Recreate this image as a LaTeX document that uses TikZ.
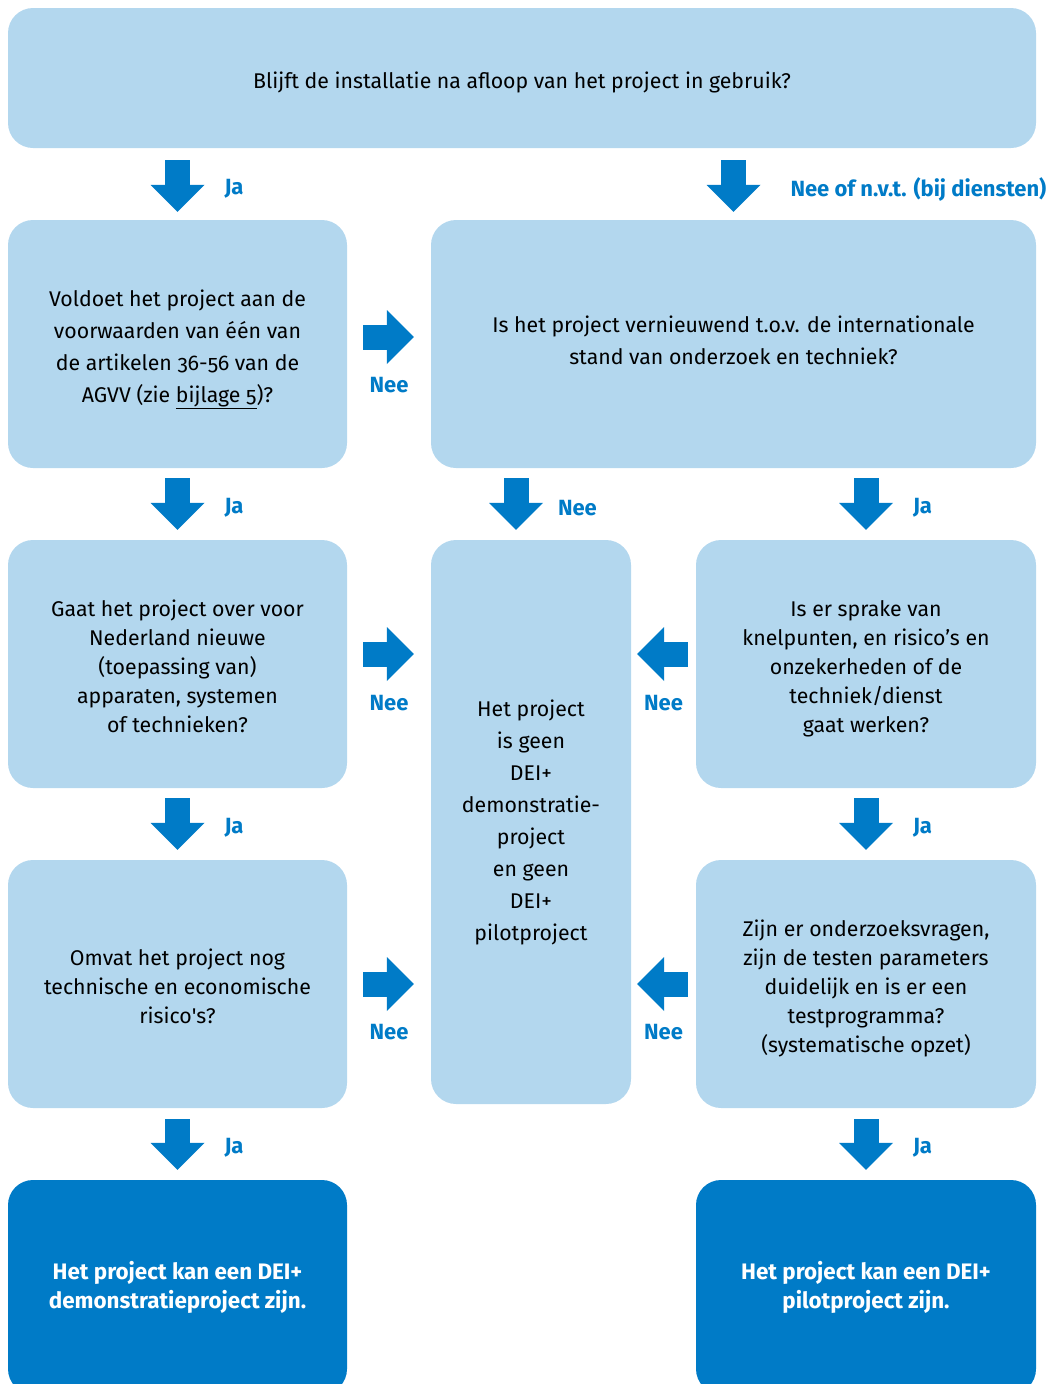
\documentclass[tikz,border=0pt]{standalone}
\usepackage{fontspec}
\setmainfont{Fira Sans}[Numbers=OldStyle]
\usetikzlibrary{arrows.meta,calc,positioning}
\definecolor{lichtblauw}{HTML}{B3D7EE}
\definecolor{hemelblauw}{HTML}{007BC7}
\newcommand{\boxfont}{\fontsize{21.3}{29}\selectfont}
\newcommand{\wideboxfont}{\fontsize{21.3}{32}\selectfont}
\newcommand{\slotfont}{\fontsize{22.4}{29}\selectfont\bfseries}

\begin{document}
\begin{tikzpicture}[x=1pt,y=-1pt]
		\useasboundingbox (0,0) rectangle (1053,1384);
		\begin{scope}[every node/.style={fill=lichtblauw,rounded corners=25pt,inner sep=0pt,align=center,font=\boxfont},
			tekst/.style={text height=#1,text depth=0pt}]
			\node[minimum width=1028pt,minimum height=140pt,tekst=21.2pt] (top) at (522,78) {Blijft de installatie na afloop van het project in gebruik?};
			\node[minimum width=339pt,minimum height=248pt,font=\wideboxfont,tekst=117.2pt] (a1) at (177.5,344) {Voldoet het project aan de\\voorwaarden van één van\\de artikelen 36-56 van de\\AGVV (zie \underline{bijlage 5})?};
			\node[minimum width=605pt,minimum height=248pt,font=\wideboxfont,tekst=41.2pt] (r1) at (733.5,344) {Is het project vernieuwend t.o.v. de internationale\\stand van onderzoek en techniek?};
			\node[minimum width=339pt,minimum height=248pt,tekst=137.2pt] (a2) at (177.5,664) {Gaat het project over voor\\Nederland nieuwe\\(toepassing van)\\apparaten, systemen\\of technieken?};
			\node[minimum width=339pt,minimum height=248pt,tekst=79.2pt] (a3) at (177.5,984) {Omvat het project nog\\technische en economische\\risico\textquotesingle s?};
			\node[minimum width=200pt,minimum height=564pt,font=\wideboxfont] (mid) at (531,822) {Het project\\is geen\\DEI+\\demonstratie-\\project\\en geen\\DEI+\\pilotproject};
			\node[minimum width=340pt,minimum height=248pt,tekst=137.2pt] (b1) at (866,664) {Is er sprake van\\knelpunten, en risico’s en\\onzekerheden of de\\techniek/dienst\\gaat werken?};
			\node[minimum width=340pt,minimum height=248pt,tekst=136.2pt] (b2) at (866,984) {Zijn er onderzoeksvragen,\\zijn de testen parameters\\duidelijk en is er een\\testprogramma?\\(systematische opzet)};
			\node[minimum width=339pt,minimum height=214pt,fill=hemelblauw,text=white,font=\slotfont] (d1) at (177.5,1287) {Het project kan een DEI+\\demonstratieproject zijn.};
			\node[minimum width=340pt,minimum height=214pt,fill=hemelblauw,text=white,font=\slotfont] (d2) at (866,1287) {Het project kan een DEI+\\pilotproject zijn.};
		\end{scope}
		\coordinate (m) at ($(mid.north)+(-15,0)$);
		\begin{scope}[blk/.style={line width=25pt,draw=hemelblauw,-{Triangle[width=54pt,length=27pt,line width=0pt]}},
			every node/.style={text=hemelblauw,inner sep=0pt,outer sep=0pt,font=\fontsize{22}{24}\selectfont\bfseries}]
			% omlaag
			\draw[blk,shorten <=12pt,shorten >=8pt] (top.south -| a1.north) -- (a1.north) node[midway,anchor=west,xshift=47pt,yshift=-5pt] {Ja};
			\draw[blk,shorten <=12pt,shorten >=8pt] (top.south -| r1.north) -- (r1.north) node[midway,anchor=west,xshift=57pt,yshift=-5pt] {Nee of n.v.t. (bij diensten)};
			\draw[blk,shorten <=10pt,shorten >=10pt] (a1.south) -- (a2.north) node[midway,anchor=west,xshift=47pt,yshift=-4pt] {Ja};
			\draw[blk,shorten <=10pt,shorten >=10pt] (m |- r1.south) -- (m) node[midway,anchor=west,xshift=42pt,yshift=-4pt] {Nee};
			\draw[blk,shorten <=10pt,shorten >=10pt] (r1.south -| b1.north) -- (b1.north) node[midway,anchor=west,xshift=47pt,yshift=-4pt] {Ja};
			\draw[blk,shorten <=10pt,shorten >=10pt] (a2.south) -- (a3.north) node[midway,anchor=west,xshift=47pt,yshift=-4pt] {Ja};
			\draw[blk,shorten <=10pt,shorten >=10pt] (b1.south) -- (b2.north) node[midway,anchor=west,xshift=47pt,yshift=-4pt] {Ja};
			\draw[blk,shorten <=11pt,shorten >=10pt] (a3.south) -- (d1.north) node[midway,anchor=west,xshift=47pt,yshift=-4pt] {Ja};
			\draw[blk,shorten <=11pt,shorten >=10pt] (b2.south) -- (d2.north) node[midway,anchor=west,xshift=47pt,yshift=-4pt] {Ja};
			% opzij
			\draw[blk,shorten <=16pt,shorten >=17pt] ($(a1.east)+(0,-7)$) -- ($(r1.west)+(0,-7)$) node[midway,yshift=-48pt] {Nee};
			\draw[blk,shorten <=16pt,shorten >=17pt] ($(a2.east)+(0,-10)$) -- ($(a2.east -| mid.west)+(0,-10)$) node[midway,yshift=-49pt] {Nee};
			\draw[blk,shorten <=16pt,shorten >=17pt] (a3.east) -- (a3.east -| mid.west) node[midway,yshift=-48pt] {Nee};
			\draw[blk,shorten <=8pt,shorten >=6pt] ($(b1.west)+(0,-10)$) -- ($(b1.west -| mid.east)+(0,-10)$) node[midway,yshift=-49pt] {Nee};
			\draw[blk,shorten <=8pt,shorten >=6pt] (b2.west) -- (b2.west -| mid.east) node[midway,yshift=-48pt] {Nee};
		\end{scope}
	\end{tikzpicture}
\end{document}
